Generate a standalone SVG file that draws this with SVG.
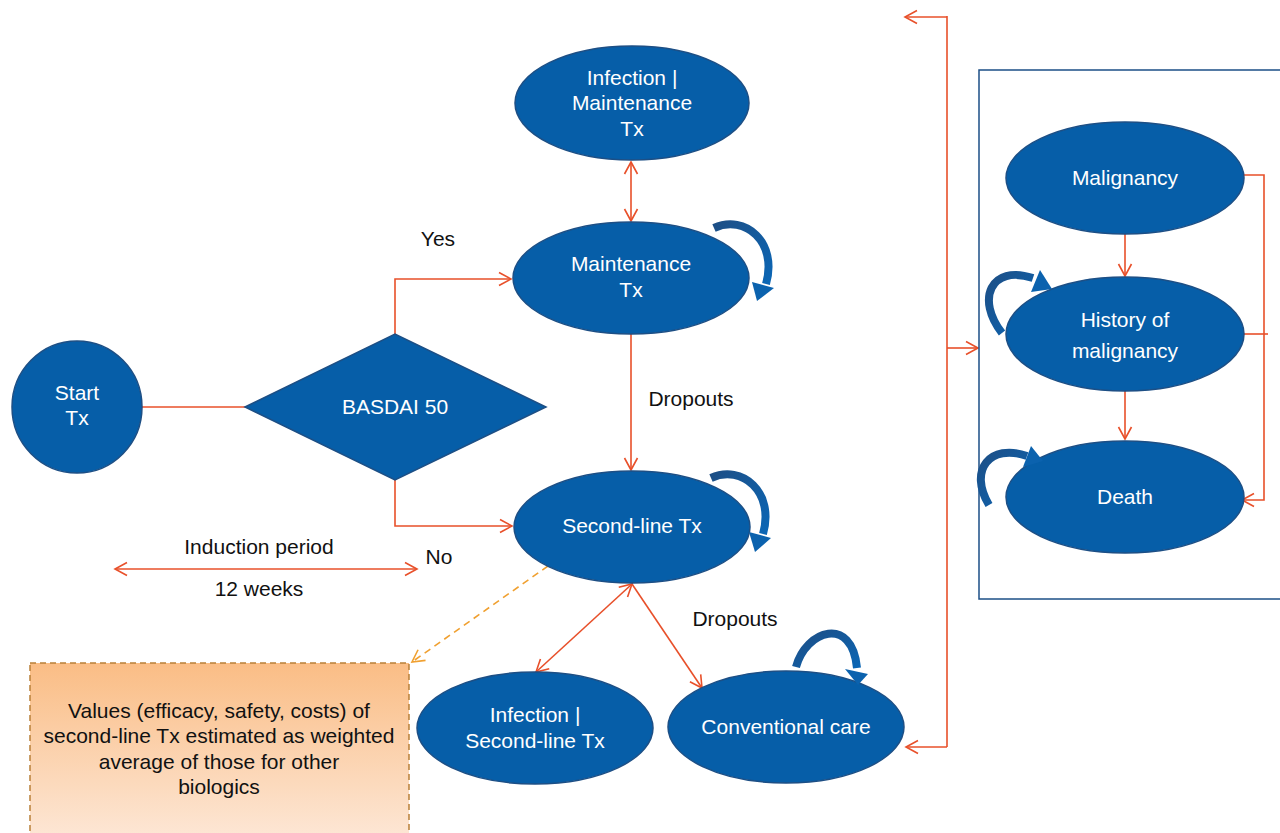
<svg xmlns="http://www.w3.org/2000/svg" width="1280" height="833" viewBox="0 0 1280 833">
<defs>
<marker id="ah" markerUnits="userSpaceOnUse" markerWidth="16" markerHeight="16" viewBox="0 0 16 16" refX="14" refY="8" orient="auto-start-reverse">
<path d="M2,1.5 L14,8 L2,14.5" fill="none" stroke="#e8502a" stroke-width="1.6"/>
</marker>
<marker id="ahy" markerUnits="userSpaceOnUse" markerWidth="16" markerHeight="16" viewBox="0 0 16 16" refX="14" refY="8" orient="auto">
<path d="M2,1.5 L14,8 L2,14.5" fill="none" stroke="#f0a030" stroke-width="1.6"/>
</marker>
<linearGradient id="og" x1="0" y1="0" x2="0" y2="1">
<stop offset="0" stop-color="#fabd85"/>
<stop offset="1" stop-color="#fde9da"/>
</linearGradient>
<linearGradient id="lg" x1="0" y1="0" x2="1" y2="1">
<stop offset="0" stop-color="#1d4f86"/>
<stop offset="1" stop-color="#0b66b5"/>
</linearGradient>
</defs>
<style>
.n{fill:#065ea8;stroke:#1d4f85;stroke-width:1.5}
.t{fill:#fff;font-family:"Liberation Sans",Arial,sans-serif;font-size:21px;text-anchor:middle}
.l{fill:#111;font-family:"Liberation Sans",Arial,sans-serif;font-size:21px;text-anchor:middle}
.c{fill:none;stroke:#e8502a;stroke-width:1.6}
.loop{fill:none;stroke:url(#lg);stroke-width:8}
.head{fill:#0b62ae}
</style>
<rect width="1280" height="833" fill="#fff"/>

<g id="connectors">
<line class="c" x1="142" y1="407" x2="245" y2="407"/>
<polyline class="c" points="395,334 395,279 511,279" marker-end="url(#ah)"/>
<polyline class="c" points="395,480 395,526 512,526" marker-end="url(#ah)"/>
<line class="c" x1="631" y1="162" x2="631" y2="221" marker-start="url(#ah)" marker-end="url(#ah)"/>
<line class="c" x1="631" y1="334" x2="631" y2="470" marker-end="url(#ah)"/>
<line class="c" x1="632" y1="584" x2="536" y2="672" marker-start="url(#ah)" marker-end="url(#ah)"/>
<line class="c" x1="632" y1="584" x2="702" y2="688" marker-end="url(#ah)"/>
<line class="c" x1="115" y1="569" x2="417" y2="569" marker-start="url(#ah)" marker-end="url(#ah)"/>
<line x1="548" y1="566" x2="412" y2="662" fill="none" stroke="#f0a030" stroke-width="1.6" stroke-dasharray="7,5" marker-end="url(#ahy)"/>
<line class="c" x1="947" y1="16" x2="947" y2="747"/>
<line class="c" x1="947" y1="17" x2="905" y2="17" marker-end="url(#ah)"/>
<line class="c" x1="947" y1="747" x2="906" y2="747" marker-end="url(#ah)"/>
<line class="c" x1="947" y1="348" x2="978" y2="348" marker-end="url(#ah)"/>
<line class="c" x1="1125" y1="234" x2="1125" y2="276" marker-end="url(#ah)"/>
<line class="c" x1="1125" y1="391" x2="1125" y2="439" marker-end="url(#ah)"/>
<polyline class="c" points="1244,175 1264,175 1264,500 1242,500" marker-end="url(#ah)"/>
<line class="c" x1="1244" y1="334" x2="1268" y2="334"/>
</g>

<g id="box">
<rect x="979" y="70" width="320" height="529" fill="none" stroke="#1d4f86" stroke-width="1.5"/>
</g>

<g id="start">
<ellipse class="n" cx="77" cy="407" rx="65" ry="66"/>
<text class="t" x="77" y="400">Start</text>
<text class="t" x="77" y="425">Tx</text>
</g>
<g id="basdai">
<polygon class="n" points="245,407 395,334 546,407 395,480"/>
<text class="t" x="395" y="414">BASDAI 50</text>
</g>
<g id="infection-maintenance">
<ellipse class="n" cx="632" cy="103" rx="117" ry="57"/>
<text class="t" x="632" y="85">Infection |</text>
<text class="t" x="632" y="110">Maintenance</text>
<text class="t" x="632" y="136">Tx</text>
</g>
<g id="maintenance">
<ellipse class="n" cx="631" cy="278" rx="118" ry="56"/>
<text class="t" x="631" y="271">Maintenance</text>
<text class="t" x="631" y="297">Tx</text>
</g>
<g id="second-line">
<ellipse class="n" cx="632" cy="527" rx="118" ry="56"/>
<text class="t" x="632" y="533">Second-line Tx</text>
</g>
<g id="infection-second">
<ellipse class="n" cx="535" cy="728" rx="118" ry="56"/>
<text class="t" x="535" y="722">Infection |</text>
<text class="t" x="535" y="748">Second-line Tx</text>
</g>
<g id="conventional">
<ellipse class="n" cx="786" cy="727" rx="118" ry="56"/>
<text class="t" x="786" y="734">Conventional care</text>
</g>
<g id="malignancy">
<ellipse class="n" cx="1125" cy="178" rx="119" ry="56"/>
<text class="t" x="1125" y="185">Malignancy</text>
</g>
<g id="history">
<ellipse class="n" cx="1125" cy="334" rx="119" ry="57"/>
<text class="t" x="1125" y="327">History of</text>
<text class="t" x="1125" y="358">malignancy</text>
</g>
<g id="death">
<ellipse class="n" cx="1125" cy="497" rx="119" ry="56"/>
<text class="t" x="1125" y="504">Death</text>
</g>

<g id="loops">
<path class="loop" d="M714,228 C745,214 778,242 766,284"/>
<polygon class="head" points="752,282 774,288 757,301"/>
<path class="loop" d="M711,478 C742,464 775,492 763,534"/>
<polygon class="head" points="749,532 771,538 755,552"/>
<path class="loop" d="M796,667 C806,630 852,615 857,668"/>
<polygon class="head" points="845,669 868,674 858,685"/>
<path class="loop" d="M1002,333 C976,300 990,264 1033,278"/>
<polygon class="head" points="1031,292 1040,270 1052,289"/>
<path class="loop" d="M989,505 C968,470 990,443 1027,456"/>
<polygon class="head" points="1023,467 1031,446 1043,461"/>
</g>

<g id="labels">
<text class="l" x="438" y="246">Yes</text>
<text class="l" x="691" y="406">Dropouts</text>
<text class="l" x="439" y="564">No</text>
<text class="l" x="259" y="554">Induction period</text>
<text class="l" x="259" y="596">12 weeks</text>
<text class="l" x="735" y="626">Dropouts</text>
</g>

<g id="note">
<rect x="30" y="663" width="379" height="185" fill="url(#og)" stroke="#b98038" stroke-width="1.5" stroke-dasharray="6,4"/>
<text class="l" x="219" y="718">Values (efficacy, safety, costs) of</text>
<text class="l" x="219" y="743">second-line Tx estimated as weighted</text>
<text class="l" x="219" y="769">average of those for other</text>
<text class="l" x="219" y="794">biologics</text>
</g>
</svg>
